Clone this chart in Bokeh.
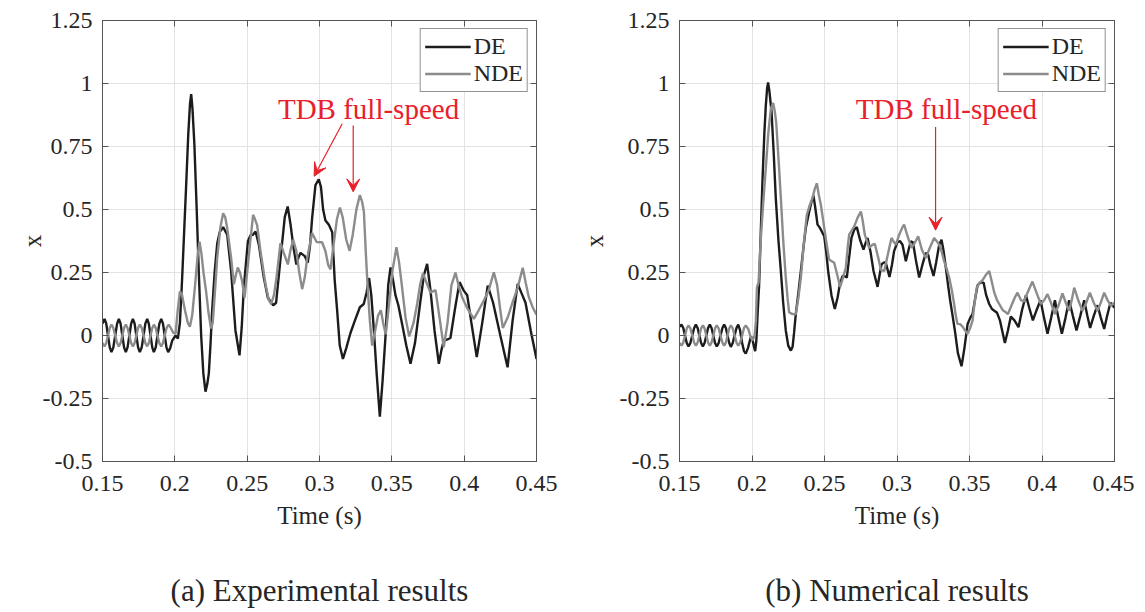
from bokeh.plotting import figure
from bokeh.layouts import row
from bokeh.models import (FixedTicker, Range1d, LinearAxis, Legend, LegendItem,
                          Arrow, VeeHead, Label)
from bokeh.embed import file_html
from bokeh.resources import INLINE

# ---------------- data ----------------
x_ticks = [0.15, 0.2, 0.25, 0.3, 0.35, 0.4, 0.45]
x_tick_labels = ["0.15", "0.2", "0.25", "0.3", "0.35", "0.4", "0.45"]
y_ticks = [-0.5, -0.25, 0, 0.25, 0.5, 0.75, 1.0, 1.25]
y_tick_labels = ["-0.5", "-0.25", "0", "0.25", "0.5", "0.75", "1", "1.25"]
series_names = ["DE", "NDE"]
captions = ["(a) Experimental results", "(b) Numerical results"]
x_title = "Time (s)"
y_title = "x"
annotation_text = "TDB full-speed"

exp_t_de = [0.1500, 0.1514, 0.1526, 0.1538, 0.1550, 0.1562, 0.1575, 0.1588, 0.1601, 0.1613,
            0.1625, 0.1637, 0.1649, 0.1661, 0.1673, 0.1686, 0.1698, 0.1710, 0.1722, 0.1734,
            0.1746, 0.1758, 0.1771, 0.1784, 0.1796, 0.1809, 0.1820, 0.1832, 0.1844, 0.1855,
            0.1868, 0.1880, 0.1893, 0.1906, 0.1918, 0.1930, 0.1942, 0.1954, 0.1968, 0.1982,
            0.2005, 0.2021, 0.2035, 0.2050, 0.2065, 0.2080, 0.2093, 0.2105, 0.2113, 0.2122,
            0.2135, 0.2150, 0.2165, 0.2182, 0.2197, 0.2212, 0.2225, 0.2235, 0.2247, 0.2258,
            0.2275, 0.2293, 0.2310, 0.2334, 0.2362, 0.2389, 0.2419, 0.2447, 0.2462, 0.2477,
            0.2505, 0.2523, 0.2540, 0.2558, 0.2581, 0.2615, 0.2643, 0.2680, 0.2700, 0.2731,
            0.2760, 0.2780, 0.2800, 0.2820, 0.2840, 0.2855, 0.2869, 0.2898, 0.2919, 0.2935,
            0.2949, 0.2972, 0.2995, 0.3010, 0.3025, 0.3041, 0.3064, 0.3088, 0.3105, 0.3122,
            0.3140, 0.3162, 0.3185, 0.3214, 0.3245, 0.3279, 0.3306, 0.3325, 0.3343, 0.3358,
            0.3376, 0.3395, 0.3417, 0.3436, 0.3456, 0.3475, 0.3491, 0.3508, 0.3525, 0.3545,
            0.3571, 0.3600, 0.3629, 0.3660, 0.3698, 0.3722, 0.3744, 0.3767, 0.3795, 0.3825,
            0.3842, 0.3859, 0.3885, 0.3905, 0.3935, 0.3968, 0.3995, 0.4021, 0.4050, 0.4087,
            0.4125, 0.4163, 0.4200, 0.4250, 0.4300, 0.4335, 0.4370, 0.4395, 0.4424, 0.4460,
            0.4500]
exp_de = [0.047, 0.066, 0.047, 0.0, -0.047, -0.066, -0.047, 0.0, 0.047, 0.066,
          0.047, 0.0, -0.047, -0.066, -0.047, 0.0, 0.047, 0.066, 0.047, 0.0,
          -0.047, -0.066, -0.047, 0.0, 0.047, 0.066, 0.047, 0.0, -0.047, -0.066,
          -0.047, 0.0, 0.047, 0.066, 0.047, 0.0, -0.047, -0.066, -0.05, -0.02,
          0.0, -0.012, 0.05, 0.22, 0.42, 0.62, 0.80, 0.92, 0.958, 0.90,
          0.76, 0.52, 0.26, 0.0, -0.15, -0.223, -0.19, -0.15, -0.03, 0.10,
          0.25, 0.365, 0.41, 0.43, 0.40, 0.256, 0.02, -0.079, 0.03, 0.19,
          0.374, 0.398, 0.40, 0.413, 0.36, 0.23, 0.15, 0.12, 0.13, 0.308,
          0.47, 0.512, 0.44, 0.35, 0.282, 0.31, 0.328, 0.315, 0.289, 0.36,
          0.466, 0.597, 0.62, 0.59, 0.50, 0.456, 0.44, 0.41, 0.22, 0.10,
          -0.04, -0.093, -0.05, 0.01, 0.06, 0.112, 0.125, 0.17, 0.228, 0.16,
          0.02, -0.15, -0.322, -0.18, -0.005, 0.20, 0.27, 0.22, 0.16, 0.12,
          0.046, -0.04, -0.112, -0.03, 0.139, 0.24, 0.284, 0.18, 0.02, -0.112,
          -0.06, -0.02, -0.015, -0.01, 0.10, 0.212, 0.18, 0.16, 0.05, -0.086,
          0.05, 0.198, 0.13, 0.0, -0.126, 0.06, 0.205, 0.17, 0.13, 0.02,
          -0.093]

exp_t_nde = [0.1500, 0.1514, 0.1526, 0.1538, 0.1550, 0.1562, 0.1575, 0.1588, 0.1601, 0.1613,
             0.1625, 0.1637, 0.1649, 0.1661, 0.1673, 0.1686, 0.1698, 0.1710, 0.1722, 0.1734,
             0.1746, 0.1758, 0.1771, 0.1784, 0.1796, 0.1809, 0.1820, 0.1832, 0.1844, 0.1855,
             0.1868, 0.1880, 0.1893, 0.1906, 0.1918, 0.1930, 0.1943, 0.1957, 0.1972, 0.1990,
             0.2005, 0.2020, 0.2035, 0.2050, 0.2070, 0.2090, 0.2104, 0.2120, 0.2140, 0.2158,
             0.2171, 0.2185, 0.2198, 0.2215, 0.2233, 0.2250, 0.2262, 0.2278, 0.2293, 0.2315,
             0.2334, 0.2348, 0.2362, 0.2389, 0.2408, 0.2422, 0.2435, 0.2450, 0.2465, 0.2482,
             0.2500, 0.2519, 0.2541, 0.2555, 0.2569, 0.2592, 0.2627, 0.2650, 0.2666, 0.2685,
             0.2703, 0.2730, 0.2753, 0.2781, 0.2800, 0.2818, 0.2840, 0.2860, 0.2880, 0.2898,
             0.2915, 0.2949, 0.2980, 0.3018, 0.3041, 0.3060, 0.3076, 0.3095, 0.3120, 0.3141,
             0.3160, 0.3185, 0.3208, 0.3230, 0.3255, 0.3279, 0.3295, 0.3307, 0.3320, 0.3333,
             0.3348, 0.3364, 0.3385, 0.3405, 0.3424, 0.3440, 0.3458, 0.3480, 0.3505, 0.3532,
             0.3550, 0.3571, 0.3595, 0.3620, 0.3650, 0.3675, 0.3695, 0.3715, 0.3744, 0.3767,
             0.3802, 0.3830, 0.3859, 0.3885, 0.3912, 0.3940, 0.3965, 0.3986, 0.4020, 0.4067,
             0.4100, 0.4136, 0.4170, 0.4205, 0.4228, 0.4250, 0.4267, 0.4300, 0.4332, 0.4370,
             0.4405, 0.4425, 0.4447, 0.4475, 0.4500]
exp_nde = [-0.03, -0.043, -0.03, 0.0, 0.03, 0.043, 0.03, 0.0, -0.03, -0.043,
           -0.03, 0.0, 0.03, 0.043, 0.03, 0.0, -0.03, -0.043, -0.03, 0.0,
           0.03, 0.043, 0.03, 0.0, -0.03, -0.043, -0.03, 0.0, 0.03, 0.043,
           0.03, 0.0, -0.03, -0.043, -0.03, 0.0, 0.03, 0.043, 0.03, 0.01,
           0.007, 0.10, 0.175, 0.16, 0.10, 0.05, 0.035, 0.08, 0.20, 0.32,
           0.372, 0.32, 0.25, 0.18, 0.09, 0.028, 0.05, 0.18, 0.308, 0.43,
           0.485, 0.47, 0.426, 0.308, 0.203, 0.24, 0.27, 0.25, 0.216, 0.15,
           0.25, 0.36, 0.479, 0.46, 0.437, 0.335, 0.203, 0.14, 0.125, 0.16,
           0.23, 0.367, 0.328, 0.282, 0.34, 0.38, 0.335, 0.25, 0.184, 0.23,
           0.308, 0.407, 0.371, 0.37, 0.335, 0.28, 0.262, 0.35, 0.46, 0.508,
           0.47, 0.38, 0.336, 0.40, 0.50, 0.557, 0.53, 0.49, 0.33, 0.19,
           0.06, -0.04, 0.02, 0.08, 0.10, 0.05, 0.005, 0.12, 0.26, 0.35,
           0.29, 0.19, 0.07, -0.004, 0.05, 0.125, 0.20, 0.247, 0.203, 0.17,
           0.18, 0.07, -0.046, 0.05, 0.20, 0.25, 0.19, 0.152, 0.11, 0.066,
           0.10, 0.139, 0.18, 0.251, 0.20, 0.10, 0.03, 0.07, 0.127, 0.19,
           0.269, 0.21, 0.152, 0.11, 0.083]

num_t_de = [0.1500, 0.1514, 0.1526, 0.1538, 0.1550, 0.1562, 0.1575, 0.1588, 0.1601, 0.1613,
            0.1625, 0.1637, 0.1649, 0.1661, 0.1673, 0.1685, 0.1697, 0.1709, 0.1721, 0.1733,
            0.1745, 0.1757, 0.1770, 0.1783, 0.1796, 0.1808, 0.1820, 0.1831, 0.1843, 0.1854,
            0.1867, 0.1880, 0.1893, 0.1905, 0.1918, 0.1932, 0.1945, 0.1957, 0.1972, 0.1990,
            0.2000, 0.2012, 0.2022, 0.2030, 0.2040, 0.2049, 0.2060, 0.2072, 0.2085, 0.2095,
            0.2104, 0.2111, 0.2120, 0.2135, 0.2150, 0.2164, 0.2182, 0.2199, 0.2215, 0.2233,
            0.2250, 0.2268, 0.2280, 0.2290, 0.2302, 0.2320, 0.2337, 0.2355, 0.2371, 0.2394,
            0.2410, 0.2424, 0.2438, 0.2452, 0.2465, 0.2475, 0.2498, 0.2512, 0.2525, 0.2548,
            0.2571, 0.2590, 0.2606, 0.2624, 0.2640, 0.2654, 0.2670, 0.2686, 0.2705, 0.2723,
            0.2745, 0.2769, 0.2785, 0.2797, 0.2818, 0.2838, 0.2866, 0.2880, 0.2893, 0.2910,
            0.2923, 0.2948, 0.2965, 0.2980, 0.3003, 0.3020, 0.3038, 0.3061, 0.3080, 0.3095,
            0.3110, 0.3130, 0.3153, 0.3175, 0.3199, 0.3215, 0.3230, 0.3252, 0.3270, 0.3291,
            0.3307, 0.3320, 0.3337, 0.3352, 0.3367, 0.3383, 0.3399, 0.3420, 0.3445, 0.3465,
            0.3487, 0.3505, 0.3521, 0.3540, 0.3556, 0.3575, 0.3597, 0.3615, 0.3636, 0.3655,
            0.3671, 0.3690, 0.3710, 0.3744, 0.3765, 0.3785, 0.3810, 0.3838, 0.3862, 0.3889,
            0.3912, 0.3937, 0.3962, 0.3990, 0.4014, 0.4038, 0.4063, 0.4089, 0.4113, 0.4137,
            0.4162, 0.4187, 0.4212, 0.4238, 0.4265, 0.4291, 0.4312, 0.4332, 0.4358, 0.4383,
            0.4406, 0.4429, 0.4450, 0.4472, 0.4500]
num_de = [0.035, 0.043, 0.03, 0.0, -0.03, -0.043, -0.03, 0.0, 0.03, 0.043,
          0.03, 0.0, -0.03, -0.043, -0.03, 0.0, 0.03, 0.043, 0.03, 0.0,
          -0.03, -0.043, -0.03, 0.0, 0.03, 0.043, 0.03, 0.0, -0.03, -0.045,
          -0.03, 0.0, 0.03, 0.043, 0.02, -0.03, -0.062, -0.072, -0.05, -0.01,
          -0.007, -0.04, -0.062, -0.02, 0.10, 0.20, 0.40, 0.61, 0.80, 0.91,
          0.98, 1.004, 0.97, 0.886, 0.72, 0.545, 0.38, 0.256, 0.13, 0.02,
          -0.04, -0.06, -0.045, 0.01, 0.085, 0.17, 0.256, 0.35, 0.427, 0.49,
          0.53, 0.555, 0.50, 0.44, 0.43, 0.42, 0.394, 0.33, 0.256, 0.16,
          0.105, 0.15, 0.203, 0.236, 0.235, 0.23, 0.31, 0.387, 0.42, 0.43,
          0.38, 0.341, 0.37, 0.387, 0.33, 0.256, 0.193, 0.24, 0.282, 0.29,
          0.289, 0.232, 0.28, 0.335, 0.37, 0.375, 0.36, 0.295, 0.34, 0.374,
          0.37, 0.30, 0.23, 0.28, 0.328, 0.32, 0.28, 0.236, 0.29, 0.36,
          0.38, 0.34, 0.269, 0.20, 0.138, 0.08, 0.02, -0.07, -0.122, -0.05,
          0.046, 0.07, 0.085, 0.15, 0.20, 0.21, 0.21, 0.16, 0.125, 0.105,
          0.098, 0.09, 0.06, -0.03, 0.02, 0.075, 0.06, 0.033, 0.10, 0.16,
          0.11, 0.06, 0.10, 0.14, 0.07, 0.007, 0.07, 0.14, 0.07, 0.007,
          0.07, 0.14, 0.08, 0.02, 0.08, 0.14, 0.08, 0.03, 0.08, 0.12,
          0.07, 0.026, 0.08, 0.13, 0.11]

num_t_nde = [0.1500, 0.1514, 0.1526, 0.1538, 0.1550, 0.1562, 0.1575, 0.1588, 0.1601, 0.1613,
             0.1625, 0.1637, 0.1649, 0.1661, 0.1673, 0.1685, 0.1697, 0.1709, 0.1721, 0.1733,
             0.1745, 0.1757, 0.1770, 0.1783, 0.1796, 0.1808, 0.1820, 0.1831, 0.1843, 0.1854,
             0.1867, 0.1880, 0.1893, 0.1905, 0.1918, 0.1932, 0.1945, 0.1957, 0.1975, 0.1990,
             0.2003, 0.2018, 0.2027, 0.2034, 0.2045, 0.2061, 0.2078, 0.2095, 0.2112, 0.2130,
             0.2146, 0.2157, 0.2167, 0.2183, 0.2199, 0.2215, 0.2233, 0.2245, 0.2256, 0.2280,
             0.2302, 0.2320, 0.2337, 0.2358, 0.2378, 0.2400, 0.2417, 0.2432, 0.2447, 0.2460,
             0.2475, 0.2490, 0.2502, 0.2518, 0.2532, 0.2550, 0.2567, 0.2588, 0.2608, 0.2628,
             0.2647, 0.2660, 0.2670, 0.2705, 0.2730, 0.2751, 0.2765, 0.2778, 0.2808, 0.2830,
             0.2847, 0.2870, 0.2890, 0.2912, 0.2940, 0.2962, 0.2980, 0.2992, 0.3015, 0.3038,
             0.3049, 0.3075, 0.3100, 0.3125, 0.3146, 0.3172, 0.3199, 0.3228, 0.3256, 0.3280,
             0.3300, 0.3325, 0.3345, 0.3360, 0.3378, 0.3394, 0.3405, 0.3417, 0.3435, 0.3452,
             0.3470, 0.3486, 0.3505, 0.3521, 0.3535, 0.3550, 0.3570, 0.3589, 0.3612, 0.3636,
             0.3655, 0.3671, 0.3690, 0.3705, 0.3730, 0.3751, 0.3765, 0.3790, 0.3812, 0.3831,
             0.3855, 0.3875, 0.3900, 0.3934, 0.3962, 0.3992, 0.4015, 0.4038, 0.4062, 0.4089,
             0.4115, 0.4141, 0.4164, 0.4187, 0.4205, 0.4222, 0.4250, 0.4279, 0.4305, 0.4330,
             0.4357, 0.4383, 0.4405, 0.4429, 0.4452, 0.4475, 0.4500]
num_nde = [-0.03, -0.04, -0.028, 0.0, 0.028, 0.04, 0.028, 0.0, -0.028, -0.04,
           -0.028, 0.0, 0.028, 0.04, 0.028, 0.0, -0.028, -0.04, -0.028, 0.0,
           0.028, 0.04, 0.028, 0.0, -0.028, -0.04, -0.028, 0.0, 0.028, 0.04,
           0.028, 0.0, -0.028, -0.04, -0.028, 0.0, 0.03, 0.04, 0.025, -0.005,
           -0.02, 0.0, 0.06, 0.19, 0.21, 0.387, 0.53, 0.663, 0.80, 0.90,
           0.923, 0.89, 0.846, 0.70, 0.545, 0.38, 0.23, 0.15, 0.092, 0.085,
           0.085, 0.15, 0.23, 0.37, 0.479, 0.52, 0.545, 0.58, 0.604, 0.56,
           0.518, 0.46, 0.413, 0.35, 0.302, 0.295, 0.289, 0.24, 0.193, 0.23,
           0.269, 0.35, 0.40, 0.433, 0.47, 0.492, 0.45, 0.40, 0.348, 0.36,
           0.364, 0.31, 0.26, 0.256, 0.33, 0.387, 0.37, 0.36, 0.40, 0.43,
           0.44, 0.39, 0.348, 0.37, 0.394, 0.34, 0.308, 0.35, 0.387, 0.37,
           0.35, 0.295, 0.26, 0.23, 0.18, 0.125, 0.08, 0.046, 0.045, 0.035,
           0.02, 0.007, 0.03, 0.059, 0.13, 0.19, 0.21, 0.219, 0.24, 0.256,
           0.21, 0.17, 0.14, 0.125, 0.10, 0.092, 0.085, 0.12, 0.15, 0.17,
           0.14, 0.135, 0.17, 0.214, 0.17, 0.125, 0.14, 0.164, 0.13, 0.085,
           0.12, 0.167, 0.13, 0.098, 0.14, 0.19, 0.14, 0.098, 0.13, 0.17,
           0.13, 0.098, 0.13, 0.17, 0.14, 0.118, 0.131]

# annotation anchor values (data units)
exp_label_xy = (0.3339, 0.90)
exp_arrows = [(0.3157, 0.84, 0.2963, 0.632), (0.3233, 0.833, 0.3233, 0.57)]
num_label_xy = (0.3341, 0.90)
num_arrows = [(0.3266, 0.827, 0.3266, 0.418)]
# span (in time units) over which each caption is centred
caption_spans = [(0.15, 0.4036), (0.15, 0.3818)]

# ---------------- style ----------------
FONT = '"Liberation Serif", serif'
DE_COLOR = "#1c1c1c"
NDE_COLOR = "#8c8c8c"
RED = "#e8202a"
AXIS_COLOR = "#555555"
GRID_COLOR = "#e3e3e3"
TEXT_COLOR = "#262626"


def make_fig(t_de, v_de, t_nde, v_nde, label_xy, arrows, caption, cap_span,
             ylab_standoff, width, bl, br):
    p = figure(width=width, height=610, output_backend="svg", toolbar_location=None,
               x_range=Range1d(0.15, 0.45), y_range=Range1d(-0.5, 1.25),
               min_border_left=bl, min_border_right=br, min_border_top=20,
               min_border_bottom=149)
    p.background_fill_color = "white"
    p.border_fill_color = "white"
    p.outline_line_color = AXIS_COLOR
    p.outline_line_width = 1

    r1 = p.line(t_de, v_de, line_color=DE_COLOR, line_width=2.4)
    r2 = p.line(t_nde, v_nde, line_color=NDE_COLOR, line_width=2.4)

    xt = FixedTicker(ticks=x_ticks)
    yt = FixedTicker(ticks=y_ticks)
    p.xaxis.ticker = xt
    p.yaxis.ticker = yt
    p.xgrid.ticker = xt
    p.ygrid.ticker = yt
    p.xgrid.grid_line_color = GRID_COLOR
    p.ygrid.grid_line_color = GRID_COLOR
    p.xaxis.major_label_overrides = dict(zip(x_ticks, x_tick_labels))
    p.yaxis.major_label_overrides = dict(zip(y_ticks, y_tick_labels))

    for ax in (p.xaxis[0], p.yaxis[0]):
        ax.axis_line_color = AXIS_COLOR
        ax.major_tick_line_color = AXIS_COLOR
        ax.major_tick_in = 6
        ax.major_tick_out = 0
        ax.minor_tick_line_color = None
        ax.major_label_text_font = FONT
        ax.major_label_text_font_size = "24px"
        ax.major_label_text_font_style = "normal"
        ax.major_label_text_color = TEXT_COLOR
        ax.axis_label_text_font = FONT
        ax.axis_label_text_font_size = "25px"
        ax.axis_label_text_font_style = "normal"
        ax.axis_label_text_color = TEXT_COLOR
    p.xaxis.major_label_standoff = 14
    p.yaxis.major_label_standoff = 10
    p.xaxis.axis_label = x_title
    p.xaxis.axis_label_standoff = 8
    p.yaxis.axis_label = y_title
    p.yaxis.axis_label_standoff = ylab_standoff

    # mirrored box ticks on top and right
    for loc, ticks in (("right", y_ticks), ("above", x_ticks)):
        ax = LinearAxis(ticker=FixedTicker(ticks=ticks),
                        major_label_overrides={t: "" for t in ticks},
                        axis_line_color=AXIS_COLOR, major_tick_line_color=AXIS_COLOR,
                        major_tick_in=6, major_tick_out=0, minor_tick_line_color=None,
                        major_label_standoff=0)
        p.add_layout(ax, loc)

    # sub-figure caption: label of a second, bare axis stacked below the first
    cap_axis = LinearAxis(ticker=FixedTicker(ticks=[]), bounds=cap_span,
                          axis_line_color=None,
                          major_tick_line_color=None, minor_tick_line_color=None,
                          major_label_standoff=0, major_tick_out=0, major_tick_in=0,
                          axis_label=caption, axis_label_standoff=41,
                          axis_label_text_font=FONT, axis_label_text_font_size="31px",
                          axis_label_text_font_style="normal",
                          axis_label_text_color=TEXT_COLOR)
    p.add_layout(cap_axis, "below")

    legend = Legend(items=[LegendItem(label=series_names[0], renderers=[r1]),
                           LegendItem(label=series_names[1], renderers=[r2])],
                    location="top_right", margin=8, padding=4, spacing=0,
                    glyph_width=46, glyph_height=23, label_height=23,
                    label_standoff=3,
                    label_text_font=FONT, label_text_font_size="24px",
                    label_text_color=TEXT_COLOR,
                    border_line_color=TEXT_COLOR, border_line_width=1,
                    background_fill_color="white", background_fill_alpha=1.0)
    p.add_layout(legend)

    p.add_layout(Label(x=label_xy[0], y=label_xy[1], text=annotation_text,
                       text_align="center", text_baseline="middle",
                       text_color=RED, text_font=FONT, text_font_size="29px"))
    for (xs, ys, xe, ye) in arrows:
        p.add_layout(Arrow(x_start=xs, y_start=ys, x_end=xe, y_end=ye,
                           line_color=RED, line_width=1.2,
                           end=VeeHead(size=13, fill_color=RED, line_color=RED)))
    return p


p1 = make_fig(exp_t_de, exp_de, exp_t_nde, exp_nde, exp_label_xy, exp_arrows,
              captions[0], caption_spans[0], -6, 575, 102, 39)
p2 = make_fig(num_t_de, num_de, num_t_nde, num_nde, num_label_xy, num_arrows,
              captions[1], caption_spans[1], 9, 559, 104, 20)

layout = row(p1, p2)
open("out.html", "w").write(file_html(layout, INLINE))
